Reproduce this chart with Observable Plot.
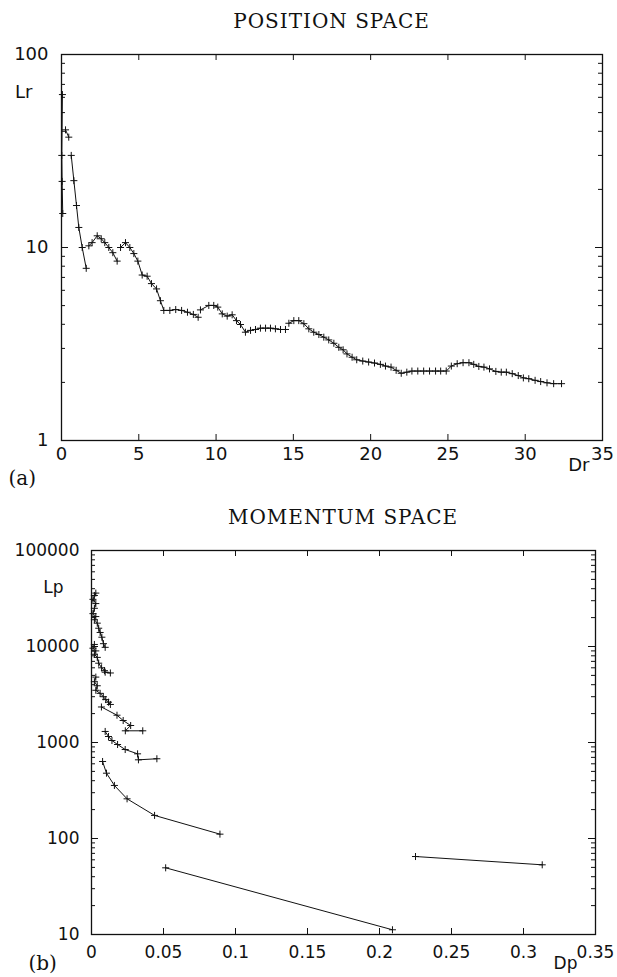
<!DOCTYPE html>
<html><head><meta charset="utf-8">
<script src="https://cdn.jsdelivr.net/npm/d3@7"></script>
<script src="https://cdn.jsdelivr.net/npm/@observablehq/plot@0.6"></script>
<style>
body{margin:0;background:#fff;width:617px;height:977px;overflow:hidden}
.title{font-family:"DejaVu Serif",serif;font-size:20px;line-height:20px;text-align:center;letter-spacing:1px;color:#111;box-sizing:border-box;white-space:nowrap}
svg{display:block}
</style></head><body>
<div class="title" style="height:36px;padding:11px 15px 0 61px">POSITION SPACE</div>
<div id="c1"></div>
<div class="title" style="height:32px;padding:7px 22px 0 91px">MOMENTUM SPACE</div>
<div id="c2"></div>
<script>
// ---------- (a) position space: [Dr, Lr] per trajectory segment ----------
const posSeg1 = [[0.06,62],[0.02,30],[0.04,22],[0.08,15]];
const posSeg2 = [[0.26,40.7],[0.47,37.3]];
const posSeg3 = [[0.63,30],[0.80,22.2],[0.97,16.5],[1.12,12.7],[1.34,10.0],[1.60,7.8]];
const posSeg4 = [[1.77,10.2],[1.98,10.6],[2.31,11.5],[2.57,11.1],[2.80,10.6],[3.06,10.0],[3.32,9.4],[3.60,8.5]];
const posSeg5 = [[3.82,10.0],[4.14,10.6],[4.42,10.0],[4.68,9.3],[4.94,8.5],[5.22,7.2],[5.54,7.1],[5.82,6.5],[6.15,6.1],[6.40,5.3],[6.62,4.72],[7.01,4.72],[7.39,4.77],[7.77,4.72],[8.15,4.62],[8.53,4.50],[8.84,4.35]];
const posSeg6 = [[8.99,4.75],[9.53,5.01],[9.85,5.01],[10.11,4.91],[10.40,4.53],[10.72,4.41],[11.04,4.48],[11.32,4.18],[11.58,3.99],[11.90,3.64],[12.23,3.72],[12.55,3.76],[12.87,3.82],[13.20,3.82],[13.52,3.82],[13.84,3.79],[14.17,3.76],[14.49,3.76]];
const posSeg7 = [[14.71,4.05],[15.03,4.18],[15.35,4.18],[15.68,4.03],[16.00,3.79],[16.32,3.64],[16.65,3.54],[16.97,3.43],[17.29,3.32],[17.62,3.19],[17.94,3.04],[18.22,2.95],[18.47,2.81],[18.80,2.70],[19.10,2.62],[19.49,2.58],[19.87,2.55],[20.25,2.52],[20.63,2.48],[20.96,2.43],[21.32,2.40],[21.65,2.31],[21.98,2.23],[22.34,2.26],[22.67,2.29],[23.05,2.29],[23.43,2.29],[23.81,2.29],[24.20,2.29],[24.53,2.29],[24.89,2.29],[25.22,2.43],[25.60,2.50],[25.98,2.53],[26.36,2.53],[26.67,2.48],[27.00,2.42],[27.33,2.40],[27.69,2.35],[28.10,2.28],[28.45,2.26],[28.78,2.26],[29.16,2.22],[29.55,2.17],[29.88,2.11],[30.23,2.09],[30.64,2.05],[31.00,2.02],[31.41,1.99],[31.84,1.97],[32.35,1.97]];
const posXTicks = [0,5,10,15,20,25,30,35];
const posYTicks = [1,10,100];

// ---------- (b) momentum space: [Dp, Lp] per trajectory segment ----------
const momSegF1 = [[0.002,34000],[0.003,36000],[0.001,31000],[0.003,28000],[0.002,25000],[0.001,22000],[0.003,20500],[0.002,19000],[0.004,17500],[0.005,15500],[0.006,14000],[0.0072,12500],[0.0083,10700],[0.0095,9800]];
const momSegF2 = [[0.002,10500],[0.001,9600],[0.003,9000],[0.002,8300],[0.004,7700],[0.005,6700],[0.007,6000],[0.009,5600],[0.0095,5400],[0.0131,5300]];
const momSegF3 = [[0.003,4800],[0.002,4300],[0.004,3900],[0.003,3500],[0.006,3250],[0.0082,3000],[0.0099,2800],[0.0118,2630],[0.0131,2490]];
const momSegE = [[0.0069,2344],[0.0177,1924],[0.022,1694],[0.0272,1503],[0.0235,1324],[0.0356,1324]];
const momSegD = [[0.0095,1303],[0.0118,1155],[0.0142,1049],[0.0181,953],[0.0234,845],[0.032,762],[0.0326,660],[0.0454,677]];
const momSegA = [[0.0077,634],[0.0104,479],[0.0159,357],[0.0247,259],[0.0438,174],[0.0892,111]];
const momSegB = [[0.0515,49.5],[0.209,11.2]];
const momSegC = [[0.225,64.9],[0.313,53.2]];
const momXTicks = [0,0.05,0.1,0.15,0.2,0.25,0.3,0.35];
const momYTicks = [10,100,1000,10000,100000];

const INK = "#111";
function minorTicks(majors){
  const out = [];
  for (let i = 0; i < majors.length - 1; i++) for (let k = 2; k <= 9; k++) out.push(majors[i]*k);
  return out;
}

function makeChart(o){
  const W = 617;
  const pw = W - o.ml - o.mr, ph = o.height - o.mt - o.mb;
  const rows = o.segments.flatMap((seg,i)=>seg.map(([x,y])=>({x,y,seg:i})));
  const yMinor = minorTicks(o.yTicks);
  return Plot.plot({
    width: W, height: o.height,
    marginLeft: o.ml, marginRight: o.mr, marginTop: o.mt, marginBottom: o.mb,
    style: {fontFamily: "DejaVu Sans", fontSize: o.fs + "px", color: INK, background: "#fff"},
    x: {domain: o.xDomain},
    y: {type: "log", domain: o.yDomain},
    marks: [
      Plot.axisX({ticks: o.xTicks, tickSize: 0, tickPadding: o.xPad, tickFormat: d => String(d), label: null}),
      Plot.axisY({ticks: o.yTicks, tickSize: 0, tickPadding: o.yPad, tickFormat: d => String(d), label: null}),
      Plot.tickX(o.xTicks, {x: d => d, insetTop: ph - 6, stroke: INK}),
      Plot.tickX(o.xTicks, {x: d => d, insetBottom: ph - 6, stroke: INK}),
      Plot.tickY(o.yTicks, {y: d => d, insetRight: pw - 7, stroke: INK}),
      Plot.tickY(o.yTicks, {y: d => d, insetLeft: pw - 7, stroke: INK}),
      Plot.tickY(yMinor, {y: d => d, insetRight: pw - 4, stroke: INK}),
      Plot.tickY(yMinor, {y: d => d, insetLeft: pw - 4, stroke: INK}),
      Plot.frame({stroke: INK, strokeWidth: 1.3}),
      Plot.line(rows, {x: "x", y: "y", z: "seg", stroke: INK, strokeWidth: 1}),
      Plot.dot(rows, {x: "x", y: "y", symbol: "plus", r: 2.4, stroke: INK, strokeWidth: 1}),
      Plot.text([o.yLabel], {frameAnchor: "top-left", text: d => d, textAnchor: "end", dx: o.yLabelDx, dy: o.yLabelDy, fill: INK}),
      Plot.text([o.xLabel], {frameAnchor: "bottom-right", text: d => d, textAnchor: "end", dx: o.xLabelDx, dy: o.xLabelDy, fill: INK}),
      Plot.text([o.panel], {frameAnchor: "bottom-left", text: d => d, textAnchor: "start", dx: o.panelDx, dy: o.panelDy, fontFamily: "DejaVu Serif", fontSize: 20, fill: INK})
    ]
  });
}

document.getElementById("c1").append(makeChart({
  segments: [posSeg1,posSeg2,posSeg3,posSeg4,posSeg5,posSeg6,posSeg7],
  xDomain: [0,35], yDomain: [1,100], xTicks: posXTicks, yTicks: posYTicks,
  ml: 61, mr: 15, mt: 18, mb: 60, height: 464, fs: 18, xPad: 7, yPad: 13,
  yLabel: "Lr", yLabelDx: -29, yLabelDy: 31,
  xLabel: "Dr", xLabelDx: -13, xLabelDy: 30,
  panel: "(a)", panelDx: -53, panelDy: 44
}));

document.getElementById("c2").append(makeChart({
  segments: [momSegF1,momSegF2,momSegF3,momSegE,momSegD,momSegA,momSegB,momSegC],
  xDomain: [0,0.35], yDomain: [10,100000], xTicks: momXTicks, yTicks: momYTicks,
  ml: 91, mr: 22, mt: 18, mb: 43, height: 445, fs: 17, xPad: 11, yPad: 12,
  yLabel: "Lp", yLabelDx: -28, yLabelDy: 30,
  xLabel: "Dp", xLabelDx: -18, xLabelDy: 34,
  panel: "(b)", panelDx: -63, panelDy: 35
}));
</script>
</body></html>
